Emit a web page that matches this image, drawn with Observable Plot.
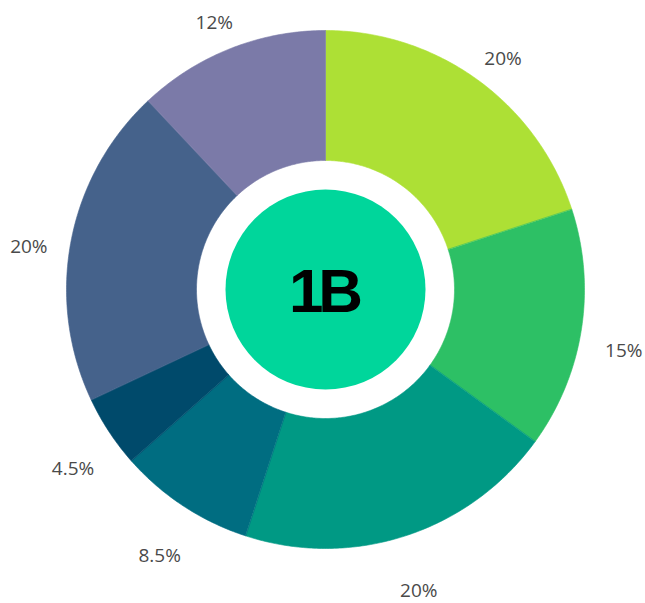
<!DOCTYPE html>
<html>
<head>
<meta charset="utf-8">
<script src="https://cdn.jsdelivr.net/npm/d3@7"></script>
<script src="https://cdn.jsdelivr.net/npm/@observablehq/plot@0.6"></script>
<style>
  html, body { margin: 0; padding: 0; background: #fff; }
</style>
</head>
<body>
<div id="chart"></div>
<script>
const categories = ["A", "B", "C", "D", "E", "F", "G"];
const values = [20, 15, 20, 8.5, 4.5, 20, 12];
const labels = ["20%", "15%", "20%", "8.5%", "4.5%", "20%", "12%"];
const colors = ["#ade035", "#2dc065", "#009984", "#006d81", "#004a6b", "#45628b", "#7b7aa8"];
const centerLabel = "1B";

const W = 645, H = 603;
const cx = 325, cy = 289;
const outerR = 259, innerR = 129, centerR = 100, labelR = 302;

const total = d3.sum(values);
let acc = 0;
const slices = values.map((v, i) => {
  const a0 = acc / total * 2 * Math.PI;
  acc += v;
  const a1 = acc / total * 2 * Math.PI;
  return {cat: categories[i], value: v, label: labels[i], a0, a1, mid: (a0 + a1) / 2};
});

const poly = [];
for (const s of slices) {
  const n = Math.max(8, Math.ceil((s.a1 - s.a0) / 0.01));
  for (let k = 0; k <= n; k++) {
    const a = s.a0 + (s.a1 - s.a0) * k / n;
    poly.push({cat: s.cat, x: outerR * Math.sin(a), y: -outerR * Math.cos(a)});
  }
  for (let k = n; k >= 0; k--) {
    const a = s.a0 + (s.a1 - s.a0) * k / n;
    poly.push({cat: s.cat, x: innerR * Math.sin(a), y: -innerR * Math.cos(a)});
  }
}

const labelPts = slices.map(s => ({label: s.label, x: labelR * Math.sin(s.mid), y: -labelR * Math.cos(s.mid)}));

const chart = Plot.plot({
  width: W,
  height: H,
  margin: 0,
  x: {domain: [-cx, W - cx], range: [0, W], axis: null},
  y: {domain: [-cy, H - cy], range: [0, H], axis: null},
  color: {domain: categories, range: colors},
  style: {background: "#fff"},
  marks: [
    Plot.line(poly, {x: "x", y: "y", z: "cat", fill: "cat", stroke: "cat", strokeWidth: 0.6, curve: "linear-closed"}),
    Plot.dot([{x: 0, y: 0}], {x: "x", y: "y", r: centerR, fill: "#00d69b", stroke: null}),
    Plot.text([{x: -2, y: 3, t: centerLabel}], {x: "x", y: "y", text: "t", fontSize: 62, fontWeight: "bold", fontFamily: "Liberation Sans, Arial, sans-serif", fill: "#000", textAnchor: "middle", lineAnchor: "middle", className: "center-label"}),
    Plot.text(labelPts, {x: "x", y: "y", text: "label", dy: 14, fontSize: 19, fontFamily: "Open Sans, sans-serif", fill: "#4a4a4a", textAnchor: "middle", lineAnchor: "middle"})
  ]
});
d3.select(chart).selectAll(".center-label text").style("letter-spacing", "-5px");
document.getElementById("chart").appendChild(chart);
</script>
</body>
</html>
